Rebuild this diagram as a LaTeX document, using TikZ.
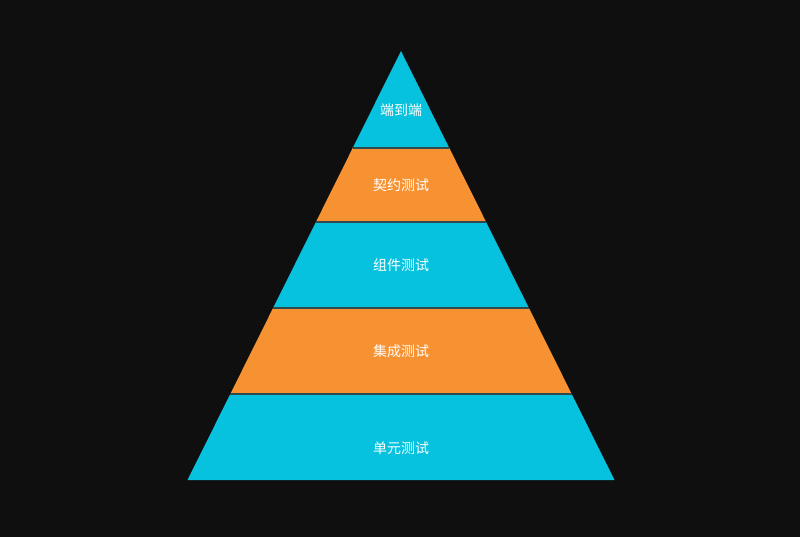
\documentclass[tikz,border=0pt]{standalone}
\usepackage{fontspec}
\newfontfamily\cjk{Noto Sans CJK SC}
\usetikzlibrary{calc}
\definecolor{bgdark}{HTML}{0F0F0F}
\definecolor{layercyan}{HTML}{06C2DE}
\definecolor{layerorange}{HTML}{F79232}
\definecolor{sepline}{HTML}{2E4A4E}

\begin{document}
\begin{tikzpicture}[
  x=1pt, y=-1pt,
  sep/.style={draw=sepline, line width=1.3pt},
  lbl/.style={font=\cjk\fontsize{14}{16}\selectfont, text=white, inner sep=0pt},
]
\useasboundingbox (0,0) rectangle (800,537);
\fill[bgdark] (0,0) rectangle (800,537);
\coordinate (apex) at (401,51);
\coordinate (bl) at (187.5,480);
\coordinate (br) at (614.5,480);
% pyramid layers, top to bottom
\foreach \ta/\tb/\col in {0/0.2261/layercyan, 0.2261/0.3986/layerorange,
    0.3986/0.5991/layercyan, 0.5991/0.7995/layerorange, 0.7995/1/layercyan}
  \fill[\col] ($(apex)!\ta!(bl)$) -- ($(apex)!\tb!(bl)$)
    -- ($(apex)!\tb!(br)$) -- ($(apex)!\ta!(br)$) -- cycle;
% dividing lines
\foreach \t in {0.2261, 0.3986, 0.5991, 0.7995}
  \draw[sep] ($(apex)!\t!(bl)$) -- ($(apex)!\t!(br)$);
\node[lbl] (e2e) at (401,110) {端到端};
\node[lbl] (contract) at (401,185) {契约测试};
\node[lbl] (component) at (401,265) {组件测试};
\node[lbl] (integration) at (401,351) {集成测试};
\node[lbl] (unit) at (401,448) {单元测试};
\end{tikzpicture}
\end{document}
